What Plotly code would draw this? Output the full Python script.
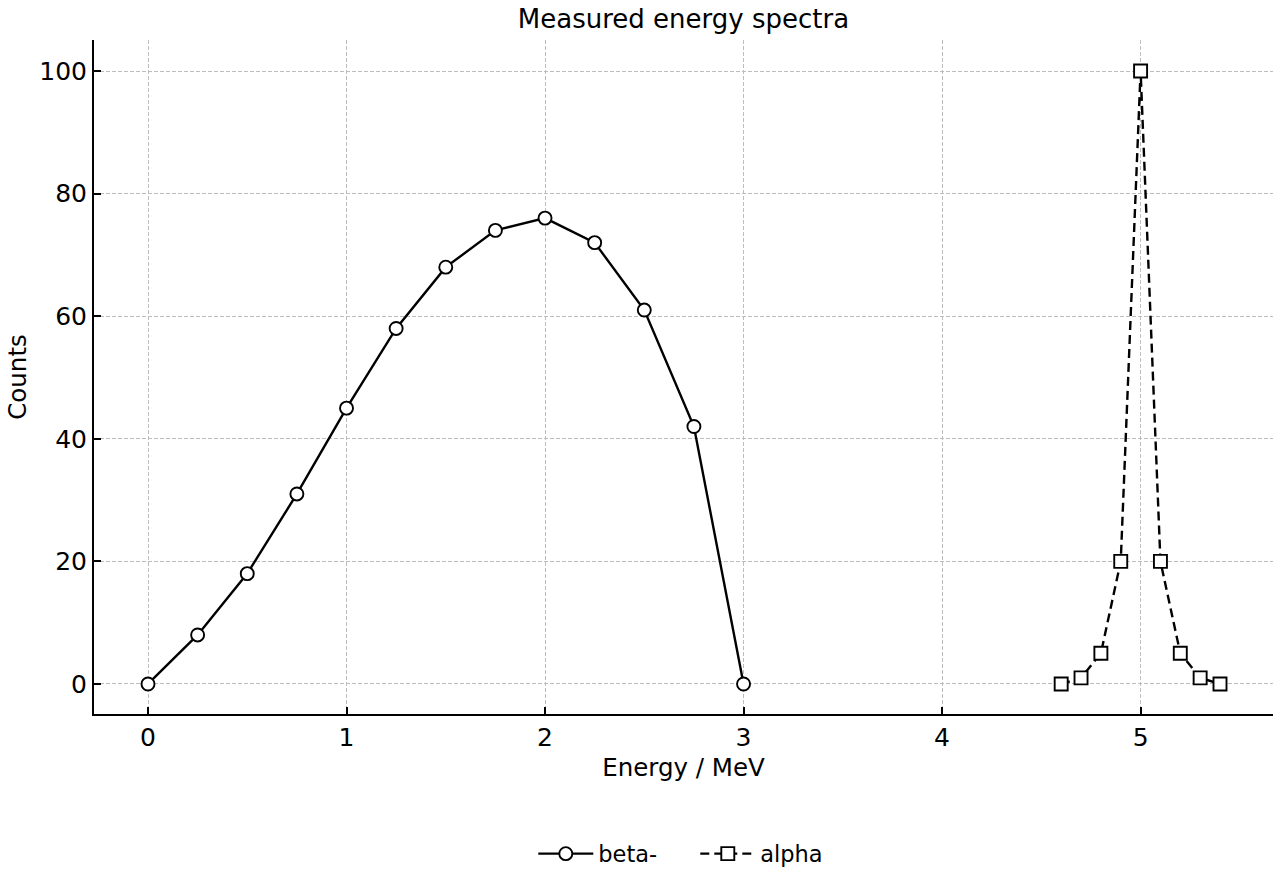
import plotly.graph_objects as go

beta_x = [0, 0.25, 0.5, 0.75, 1.0, 1.25, 1.5, 1.75, 2.0, 2.25, 2.5, 2.75, 3.0]
beta_y = [0, 8, 18, 31, 45, 58, 68, 74, 76, 72, 61, 42, 0]
alpha_x = [4.6, 4.7, 4.8, 4.9, 5.0, 5.1, 5.2, 5.3, 5.4]
alpha_y = [0, 1, 5, 20, 100, 20, 5, 1, 0]

font = "DejaVu Sans"
fig = go.Figure()
fig.add_trace(go.Scatter(
    x=beta_x, y=beta_y, name="beta-", mode="lines+markers",
    line=dict(color="black", width=2.4),
    marker=dict(symbol="circle", size=13, color="white", line=dict(color="black", width=1.9)),
))
fig.add_trace(go.Scatter(
    x=alpha_x, y=alpha_y, name="alpha", mode="lines+markers",
    line=dict(color="black", width=2.4, dash="9px,5px"),
    marker=dict(symbol="square", size=13, color="white", line=dict(color="black", width=1.9)),
))

axis_common = dict(
    showline=True, linecolor="black", linewidth=2, mirror=False,
    ticks="inside", ticklen=7, tickwidth=2, tickcolor="black",
    showgrid=True, gridcolor="#bdbdbd", griddash="4px,2px", gridwidth=1,
    zeroline=False, automargin=False,
    tickfont=dict(family=font, size=25, color="black"),
)
fig.update_layout(
    width=1280, height=880,
    paper_bgcolor="white", plot_bgcolor="white",
    margin=dict(l=94, r=7, t=40, b=166),
    title=dict(text="Measured energy spectra", x=0.5, xanchor="center", y=0.979, yanchor="middle",
               xref="paper", font=dict(family=font, size=26, color="black")),
    xaxis=dict(range=[-0.272, 5.667], tickvals=[0, 1, 2, 3, 4, 5],
               title=dict(text="Energy / MeV", font=dict(family=font, size=24.5, color="black"), standoff=8),
               **axis_common),
    yaxis=dict(range=[-4.9, 105.06], tickvals=[0, 20, 40, 60, 80, 100],
               title=dict(text="Counts", font=dict(family=font, size=24.5, color="black"), standoff=6),
               **axis_common),
    legend=dict(orientation="h", x=0.51, xanchor="center", y=0.0295, yanchor="middle",
                yref="container",
                font=dict(family=font, size=22.5, color="black"),
                itemwidth=55, entrywidth=92, entrywidthmode="pixels"),
    showlegend=True,
)
fig.write_html("out.html")
